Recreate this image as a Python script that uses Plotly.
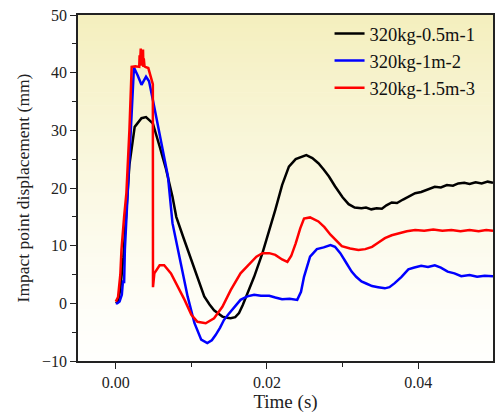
import plotly.graph_objects as go

# ---- data ----
t_black = [0.0000, 0.0003, 0.0006, 0.0010, 0.0014, 0.0018, 0.0025, 0.0034, 0.0040, 0.0049,
           0.0058, 0.0066, 0.0075, 0.0080, 0.0090, 0.0100, 0.0110, 0.0117, 0.0124, 0.0130,
           0.0136, 0.0141, 0.0147, 0.0152, 0.0158, 0.0163, 0.0168, 0.0174, 0.0183, 0.0194,
           0.0203, 0.0211, 0.0220, 0.0229, 0.0238, 0.0245, 0.0252, 0.0260, 0.0268, 0.0275,
           0.0282, 0.0290, 0.0300, 0.0308, 0.0316, 0.0325, 0.0331, 0.0338, 0.0345, 0.0352,
           0.0358, 0.0365, 0.0372, 0.0380, 0.0388, 0.0396, 0.0404, 0.0412, 0.0422, 0.0430,
           0.0438, 0.0446, 0.0453, 0.0461, 0.0468, 0.0476, 0.0484, 0.0492, 0.0499]
y_black = [0.0, 0.3, 2.5, 8.0, 16.0, 24.0, 30.6, 32.1, 32.3, 31.2,
           27.2, 23.5, 18.5, 15.0, 11.2, 7.4, 3.8, 1.2, -0.2, -1.2,
           -1.8, -2.3, -2.5, -2.6, -2.4, -1.7, -0.3, 1.7, 4.6, 8.7,
           12.5, 16.2, 20.5, 23.7, 25.0, 25.4, 25.7, 25.2, 24.3, 23.2,
           22.0, 20.3, 18.4, 17.2, 16.6, 16.5, 16.6, 16.3, 16.5, 16.4,
           17.0, 17.5, 17.4, 18.0, 18.6, 19.1, 19.3, 19.7, 20.2, 20.1,
           20.5, 20.4, 20.8, 20.9, 20.7, 21.0, 20.8, 21.1, 20.9]

t_blue = [0.0000, 0.0002, 0.0005, 0.0008, 0.00096, 0.0011, 0.0012, 0.0016, 0.0020, 0.0024,
          0.0029, 0.0034, 0.0040, 0.0044, 0.0049, 0.0055, 0.0060, 0.0069, 0.0075, 0.0080,
          0.0086, 0.0095, 0.0104, 0.0113, 0.0121, 0.0127, 0.0132, 0.0138, 0.0143, 0.0149,
          0.0154, 0.0160, 0.0165, 0.0174, 0.0183, 0.0192, 0.0203, 0.0211, 0.0220, 0.0230,
          0.0240, 0.0245, 0.0249, 0.0257, 0.0266, 0.0275, 0.0284, 0.0290, 0.0297, 0.0305,
          0.0312, 0.0318, 0.0325, 0.0332, 0.0339, 0.0347, 0.0356, 0.0362, 0.0369, 0.0378,
          0.0387, 0.0395, 0.0404, 0.0413, 0.0422, 0.0430, 0.0439, 0.0448, 0.0457, 0.0468,
          0.0478, 0.0488, 0.0499]
y_blue = [0.0, 0.0, 0.3, 1.5, 4.0, 3.5, 9.3, 20.0, 32.0, 40.9,
          39.5, 37.9, 39.3, 38.5, 35.3, 31.5, 28.3, 22.0, 13.9, 10.5,
          6.9, 1.2, -3.4, -6.3, -6.9, -6.4, -5.5, -4.2, -2.9, -1.9,
          -1.1, -0.1, 0.6, 1.2, 1.5, 1.3, 1.3, 1.0, 0.7, 0.8,
          0.6, 2.0, 4.6, 8.1, 9.4, 9.7, 10.1, 9.8, 8.7, 7.0,
          5.5, 4.6, 3.8, 3.4, 3.0, 2.8, 2.6, 2.8, 3.5, 4.6,
          5.9, 6.2, 6.5, 6.3, 6.6, 6.2, 5.5, 5.2, 4.7, 4.9,
          4.6, 4.8, 4.7]

t_red = [0.0000, 0.0003, 0.0006, 0.00075, 0.0011, 0.0014, 0.0018, 0.0021, 0.0026, 0.0031,
         0.00315, 0.0032, 0.0033, 0.0034, 0.00345, 0.0035, 0.0036, 0.00365, 0.0037, 0.0038,
         0.0039, 0.0043, 0.0047, 0.0049, 0.00492, 0.0051, 0.0058, 0.0064, 0.0073, 0.0082,
         0.0091, 0.0100, 0.0108, 0.0119, 0.0130, 0.0141, 0.0152, 0.0165, 0.0179, 0.0186,
         0.0194, 0.0203, 0.0211, 0.0220, 0.0227, 0.0232, 0.0238, 0.0244, 0.0249, 0.0257,
         0.0268, 0.0276, 0.0284, 0.0292, 0.0299, 0.0310, 0.0321, 0.0330, 0.0339, 0.0347,
         0.0356, 0.0365, 0.0374, 0.0385, 0.0396, 0.0408, 0.0420, 0.0432, 0.0444, 0.0456,
         0.0468, 0.0480, 0.0490, 0.0499]
y_red = [0.3, 1.1, 5.0, 9.3, 15.0, 19.1, 30.0, 41.0, 41.1, 41.0,
         43.0, 41.2, 44.2, 41.3, 43.8, 41.2, 44.0, 41.0, 42.5, 41.1,
         41.0, 40.8, 38.7, 38.0, 2.8, 5.2, 6.6, 6.6, 5.2, 2.9,
         0.6, -2.0, -3.2, -3.45, -2.6, -0.6, 2.3, 5.2, 7.2, 8.1,
         8.7, 8.7, 8.4, 7.6, 7.2, 8.2, 10.4, 13.0, 14.7, 14.9,
         14.2, 13.2, 11.9, 10.8, 9.9, 9.5, 9.25, 9.4, 9.8, 10.5,
         11.3, 11.8, 12.1, 12.5, 12.7, 12.6, 12.8, 12.6, 12.7, 12.5,
         12.7, 12.5, 12.7, 12.6]

series_names = ["320kg-0.5m-1", "320kg-1m-2", "320kg-1.5m-3"]
series_colors = ["#000000", "#0000ff", "#ff0000"]

x_tickvals = [0.00, 0.02, 0.04]
x_ticktext = ["0.00", "0.02", "0.04"]
y_tickvals = [-10, 0, 10, 20, 30, 40, 50]

fig = go.Figure()
for tx, yy, nm, col in zip([t_black, t_blue, t_red], [y_black, y_blue, y_red],
                           series_names, series_colors):
    fig.add_trace(go.Scatter(x=tx, y=yy, mode="lines", name=nm,
                             line=dict(color=col, width=2.5)))

# gradient background: yellowish at top fading to white
shapes = []
n = 80
top = (244, 239, 190)
bot = (255, 255, 253)
for i in range(n):
    f = (i / (n - 1)) ** 1.25  # 0 at bottom, 1 at top
    c = tuple(int(round(bot[k] + (top[k] - bot[k]) * f)) for k in range(3))
    shapes.append(dict(type="rect", xref="x domain", yref="y domain",
                       x0=0, x1=1, y0=i / n, y1=(i + 1) / n + 0.002,
                       fillcolor="rgb(%d,%d,%d)" % c, line=dict(width=0),
                       layer="below"))

font_family = "Liberation Serif, Times New Roman, serif"
fig.update_layout(
    width=498, height=416,
    margin=dict(l=78, r=3, t=15, b=55),
    paper_bgcolor="white", plot_bgcolor="white",
    shapes=shapes,
    font=dict(family=font_family, size=16, color="#222"),
    showlegend=True,
    legend=dict(x=0.97, y=1.0, xanchor="right", yanchor="top",
                bgcolor="rgba(0,0,0,0)", borderwidth=0,
                font=dict(family=font_family, size=18.5, color="#111"),
                tracegroupgap=0, itemwidth=30),
    xaxis=dict(range=[-0.005, 0.0499], tickvals=x_tickvals, ticktext=x_ticktext,
               ticks="outside", ticklen=6, tickwidth=1.3, tickcolor="#222",
               showline=True, linecolor="#222", linewidth=1.5, mirror=True,
               showgrid=False, zeroline=False,
               minor=dict(tickvals=[0.01, 0.03], ticks="outside", ticklen=4,
                          tickwidth=1.2, tickcolor="#222"),
               title=dict(text="Time (s)", font=dict(size=19), standoff=4),
               tickfont=dict(size=16)),
    yaxis=dict(range=[-10, 50], tickvals=y_tickvals,
               ticks="outside", ticklen=6, tickwidth=1.3, tickcolor="#222",
               showline=True, linecolor="#222", linewidth=1.5, mirror=True,
               showgrid=False, zeroline=False,
               minor=dict(tickvals=[-5, 5, 15, 25, 35, 45], ticks="outside", ticklen=4,
                          tickwidth=1.2, tickcolor="#222"),
               title=dict(text="Impact point displacement (mm)", font=dict(size=17.5), standoff=8),
               tickfont=dict(size=16)),
)

fig.write_html("out.html")
